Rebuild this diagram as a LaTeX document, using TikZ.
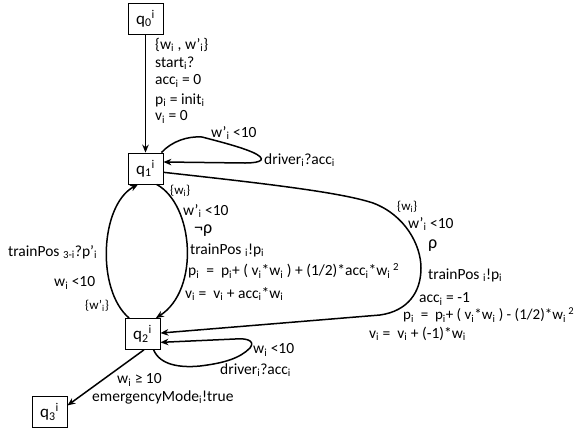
\documentclass[tikz,border=0pt]{standalone}
\usepackage{fontspec}
\setmainfont{Carlito}
\usetikzlibrary{arrows.meta}
\newcommand\sbs[1]{\textsubscript{#1}}
\newcommand\sps[1]{\textsuperscript{#1}}
\begin{document}
\begin{tikzpicture}[x=1pt,y=-1pt,
  state/.style={draw, line width=0.8pt, minimum width=35pt, minimum height=31pt, inner sep=0pt, font=\fontsize{17}{19}\selectfont},
  edge/.style={line width=1.5pt, -{Stealth[length=8pt,width=6.5pt]}},
  lbl/.style={inner sep=0pt, anchor=west, font=\fontsize{15.5}{17}\selectfont},
  slbl/.style={inner sep=0pt, anchor=west, font=\fontsize{13}{15}\selectfont},
  blbl/.style={inner sep=0pt, anchor=west, font=\fontsize{18}{20}\selectfont}]
\useasboundingbox (0,0) rectangle (580,429);
\node[state] (q0) at (145.5,18.5) {q\sbs{0}\sps{i}};
\node[state] (q1) at (145.5,168.5) {q\sbs{1}\sps{i}};
\node[state] (q2) at (142.5,334) {q\sbs{2}\sps{i}};
\node[state] (q3) at (49.5,412) {q\sbs{3}\sps{i}};

% q0 -> q1
\draw[edge] (q0) -- (q1);
\node[lbl] (a1) at (155,45) {\{w\sbs{i} , w’\sbs{i}\}};
\node[lbl] (a2) at (155,63) {start\sbs{i}?};
\node[lbl] (a3) at (155,81) {acc\sbs{i} = 0};
\node[lbl] (a4) at (155,100) {p\sbs{i} = init\sbs{i}};
\node[lbl] (a5) at (155,117) {v\sbs{i} = 0};

% q1 self loop
\draw[edge] (q1.45) .. controls (172,141) and (188,136) .. (202,137)
  .. controls (225,143) and (240,147) .. (252,152)
  .. controls (268,159) and (262,163) .. (245,163) -- (q1.20);
\node[lbl] (b1) at (211,133) {w’\sbs{i} <10};
\node[lbl] (b2) at (264,160) {driver\sbs{i}?acc\sbs{i}};

% q1 -> q2 inner
\draw[edge] (q1.-55) .. controls (194,205) and (200,290) .. (q2.50);
\node[slbl] (c1) at (170,191) {\{w\sbs{i}\}};
\node[lbl] (c2) at (183,211) {w’\sbs{i} <10};
\node[blbl] (c3) at (194,231) {¬ρ};
\node[lbl] (c4) at (190,250) {trainPos \sbs{i}!p\sbs{i}};
\node[lbl] (c5) at (188,271) {p\sbs{i}\ \ =\ \ p\sbs{i}+ ( v\sbs{i}*w\sbs{i} ) + (1/2)*acc\sbs{i}*w\sbs{i}\,\sps{2}};
\node[lbl] (c6) at (185,294) {v\sbs{i} =\ \ v\sbs{i} + acc\sbs{i}*w\sbs{i}};

% q2 -> q1 left
\draw[edge] (q2.130) .. controls (96,290) and (100,205) .. (q1.-115);
\node[lbl] (d1) at (8,252) {trainPos \sbs{3-i}?p’\sbs{i}};
\node[lbl] (d2) at (54,283) {w\sbs{i} <10};
\node[slbl] (d3) at (85,306) {\{w’\sbs{i}\}};

% q1 -> q2 big right
\draw[edge] (q1.-12) .. controls (260,183) and (340,192) .. (373,203)
  .. controls (405,215) and (421,245) .. (421,268)
  .. controls (421,292) and (408,311) .. (380,315)
  -- (q2.3);
\node[slbl] (e1) at (397,207) {\{w\sbs{i}\}};
\node[lbl] (e2) at (408,224) {w’\sbs{i} <10};
\node[blbl] (e3) at (428,246) {ρ};
\node[lbl] (e4) at (428,275) {trainPos \sbs{i}!p\sbs{i}};
\node[lbl] (e5) at (419,299) {acc\sbs{i} = -1};
\node[lbl, font=\fontsize{15}{17}\selectfont] (e6) at (403,315) {p\sbs{i}\ \ =\ \ p\sbs{i}+ ( v\sbs{i}*w\sbs{i} ) - (1/2)*w\sbs{i}\,\sps{2}};
\node[lbl] (e7) at (369,334) {v\sbs{i} =\ \ v\sbs{i} + (-1)*w\sbs{i}};

% q2 self loop
\draw[edge] (q2.-55) .. controls (160,365) and (180,368) .. (200,366)
  .. controls (225,363) and (240,358) .. (250,348)
  .. controls (256,340) and (245,338) .. (235,339) -- (q2.-25);
\node[lbl] (f1) at (253,350) {w\sbs{i} <10};
\node[lbl] (f2) at (220,370) {driver\sbs{i}?acc\sbs{i}};

% q2 -> q3
\draw[edge] (q2.-85) -- (q3.20);
\node[lbl] (g1) at (117,380) {w\sbs{i} ≥ 10};
\node[lbl] (g2) at (92,397) {emergencyMode\sbs{i}!true};
\end{tikzpicture}
\end{document}
